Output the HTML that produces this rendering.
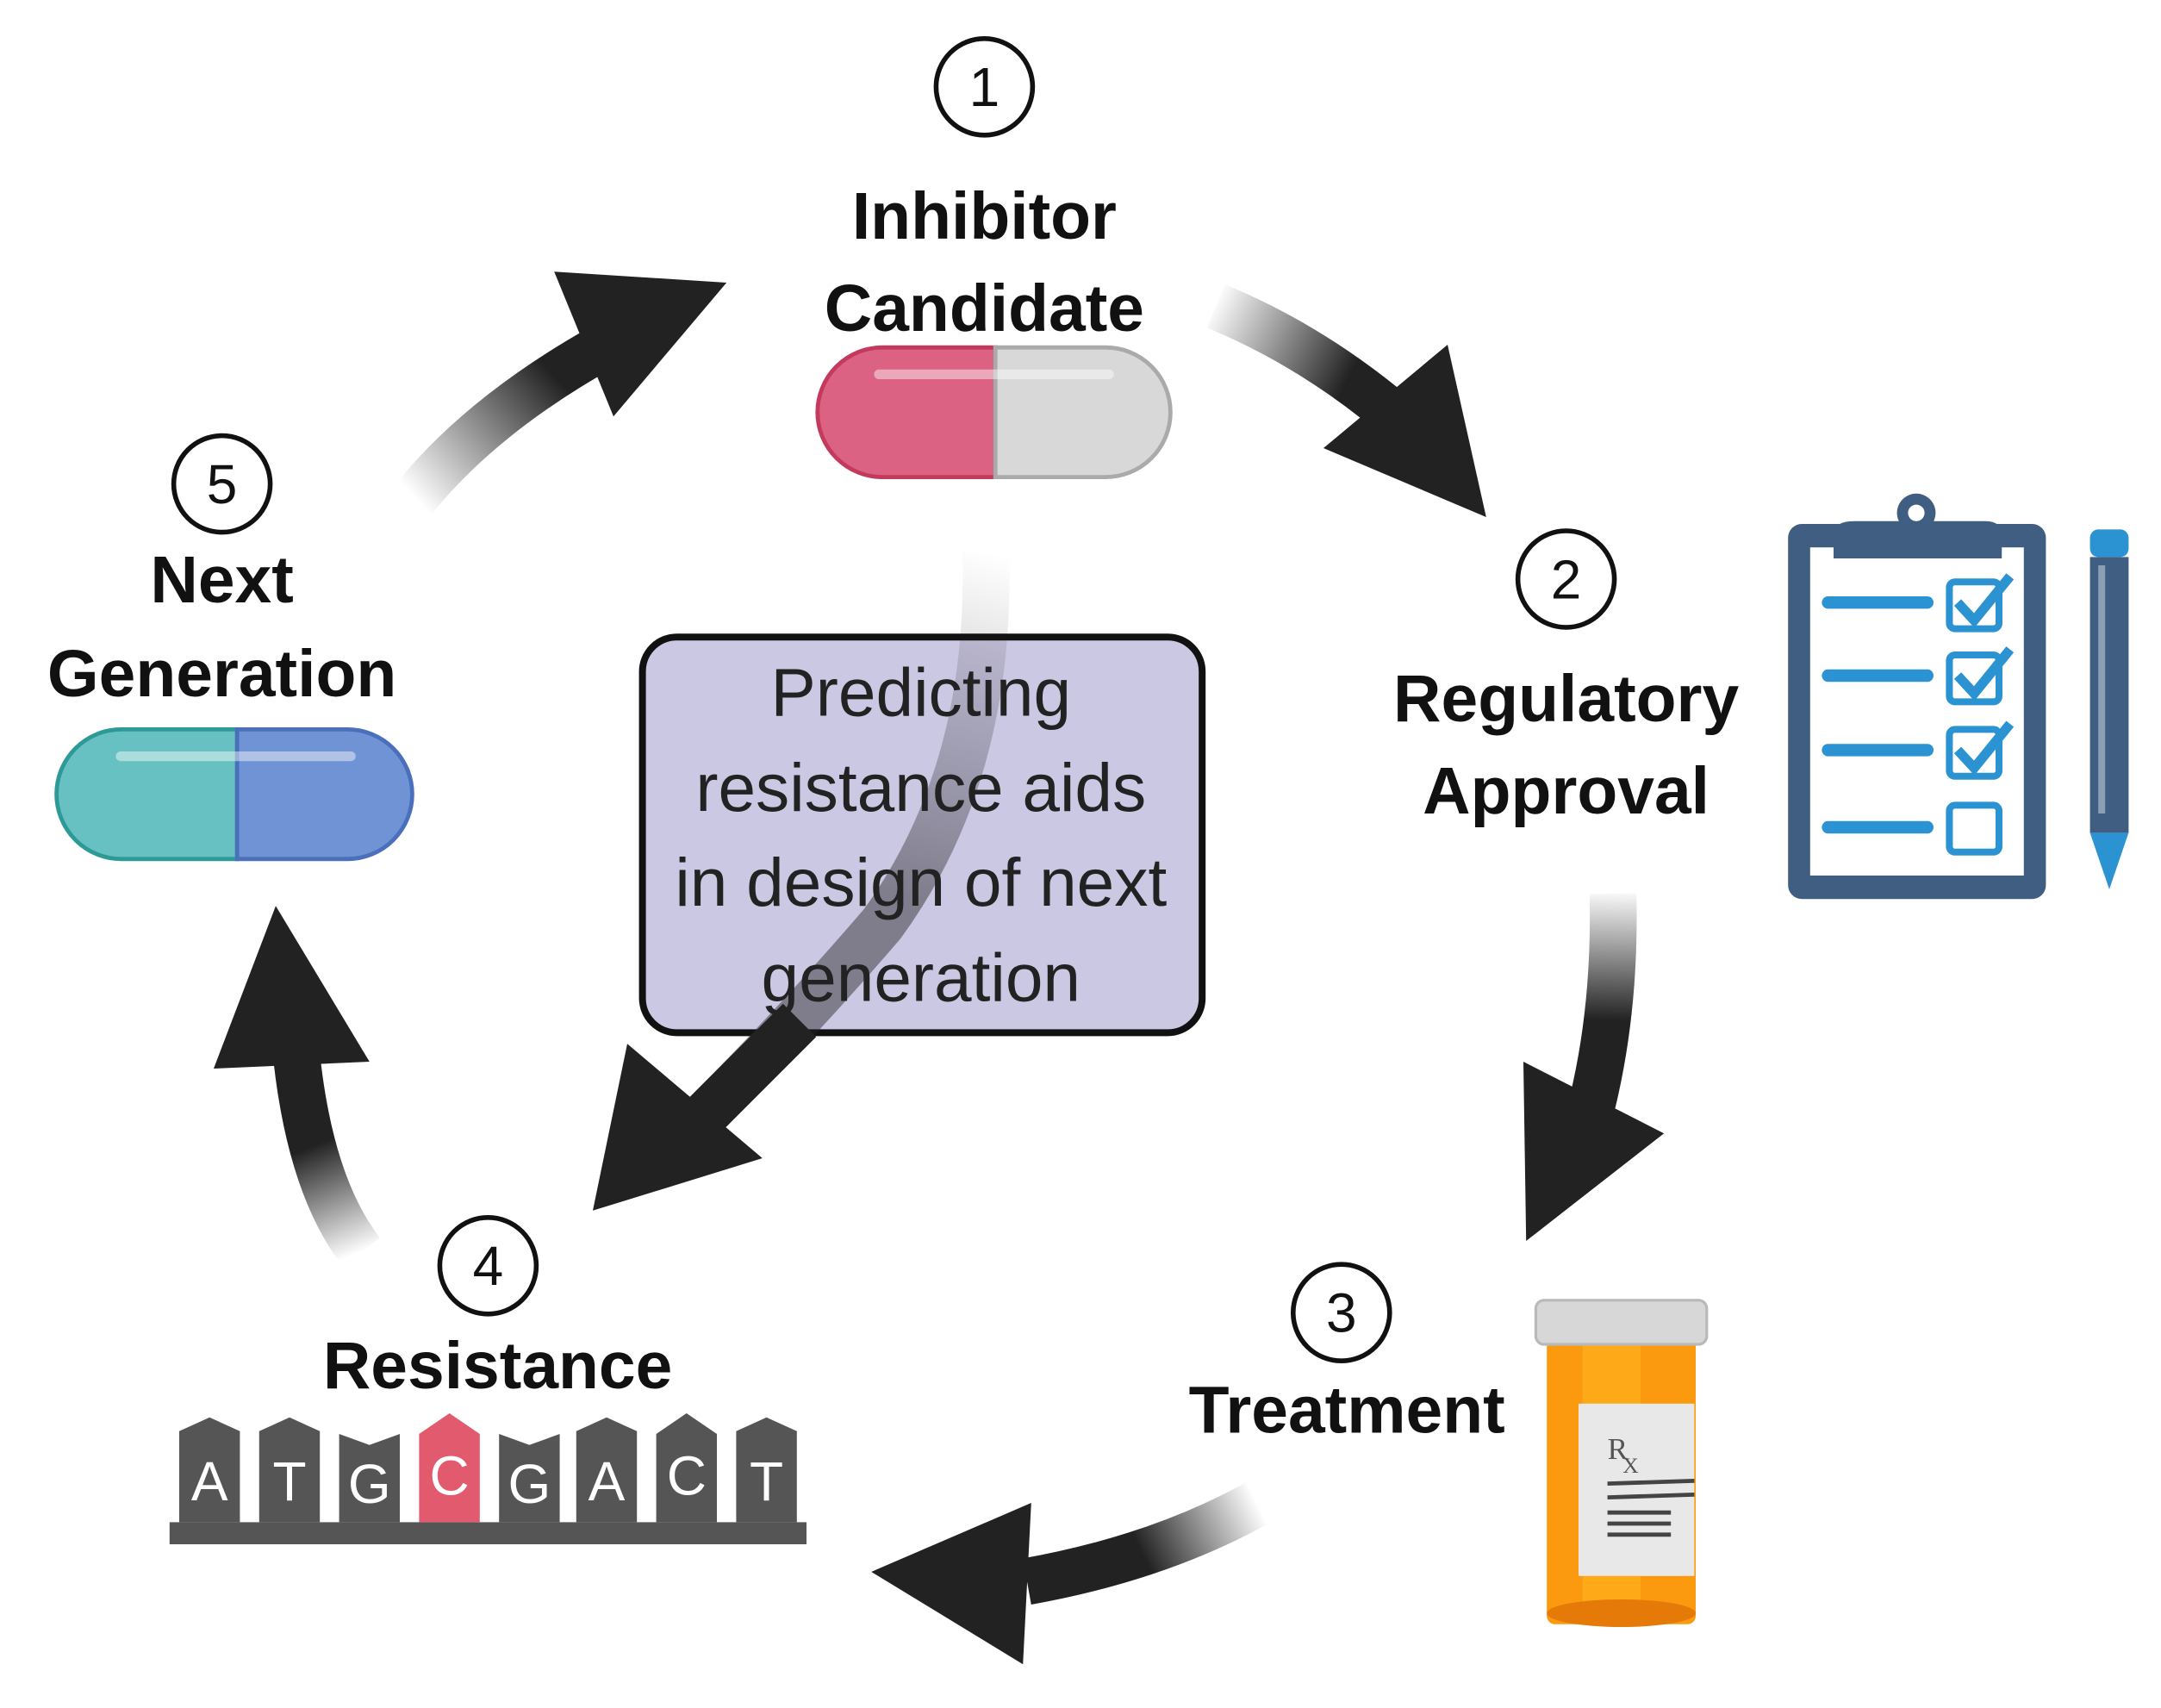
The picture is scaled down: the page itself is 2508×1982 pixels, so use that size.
<!DOCTYPE html>
<html><head><meta charset="utf-8"><style>html,body{margin:0;padding:0;background:#fff}svg{display:block}</style></head>
<body>
<svg width="2508" height="1982" viewBox="0 0 1567.5 1238.75" xmlns="http://www.w3.org/2000/svg" font-family="'Liberation Sans', sans-serif">
<defs>
<linearGradient id="g1" gradientUnits="userSpaceOnUse" x1="300" y1="360" x2="400" y2="270"><stop offset="0" stop-color="#222" stop-opacity="0"/><stop offset="1" stop-color="#222"/></linearGradient>
<linearGradient id="g2" gradientUnits="userSpaceOnUse" x1="880" y1="220" x2="980" y2="270"><stop offset="0" stop-color="#222" stop-opacity="0"/><stop offset="1" stop-color="#222"/></linearGradient>
<linearGradient id="g3" gradientUnits="userSpaceOnUse" x1="1170" y1="645" x2="1168" y2="740"><stop offset="0" stop-color="#222" stop-opacity="0"/><stop offset="1" stop-color="#222"/></linearGradient>
<linearGradient id="g4" gradientUnits="userSpaceOnUse" x1="912" y1="1090" x2="830" y2="1130"><stop offset="0" stop-color="#222" stop-opacity="0"/><stop offset="1" stop-color="#222"/></linearGradient>
<linearGradient id="g5" gradientUnits="userSpaceOnUse" x1="262" y1="908" x2="230" y2="830"><stop offset="0" stop-color="#222" stop-opacity="0"/><stop offset="1" stop-color="#222"/></linearGradient>
<linearGradient id="gc" gradientUnits="userSpaceOnUse" x1="715" y1="400" x2="650" y2="650"><stop offset="0" stop-color="#222" stop-opacity="0"/><stop offset="1" stop-color="#222"/></linearGradient>
</defs>

<!-- box -->
<rect x="466" y="462" width="406" height="287" rx="25" fill="#cbc8e3" stroke="#111" stroke-width="5"/>

<!-- arrows -->
<path d="M300,362 Q350,300 440,250" fill="none" stroke="url(#g1)" stroke-width="34"/>
<polygon points="527,205 402,197 445,302" fill="#222"/>
<path d="M882,222 Q950,250 1010,300" fill="none" stroke="url(#g2)" stroke-width="34"/>
<polygon points="1078,375 960,325 1050,250" fill="#222"/>
<path d="M1170,648 Q1172,730 1155,800" fill="none" stroke="url(#g3)" stroke-width="34"/>
<polygon points="1107,900 1105,770 1207,822" fill="#222"/>
<path d="M912,1090 Q840,1130 745,1147" fill="none" stroke="url(#g4)" stroke-width="34"/>
<polygon points="632,1140 748,1090 742,1207" fill="#222"/>
<path d="M262,908 Q225,860 215,765" fill="none" stroke="url(#g5)" stroke-width="34"/>
<polygon points="200,657 155,775 268,770" fill="#222"/>
<path d="M715,400 Q720,560 640,670 Q580,740 510,810" fill="none" stroke="url(#gc)" stroke-width="34" opacity="0.45"/>
<path d="M580,740 L510,810" fill="none" stroke="#222" stroke-width="34"/>
<polygon points="430,878 455,757 553,840" fill="#222"/>

<!-- box text -->
<g font-size="49" fill="#222" text-anchor="middle">
<text x="668" y="519">Predicting</text>
<text x="668" y="588">resistance aids</text>
<text x="668" y="657">in design of next</text>
<text x="668" y="726">generation</text>
</g>

<!-- circles -->
<g fill="none" stroke="#111" stroke-width="3.5">
<circle cx="714" cy="63" r="35"/><circle cx="1136" cy="420" r="35"/><circle cx="973" cy="952" r="35"/><circle cx="354" cy="918" r="35"/><circle cx="161" cy="351" r="35"/>
</g>
<g font-size="40" fill="#111" text-anchor="middle">
<text x="714" y="77">1</text><text x="1136" y="434">2</text><text x="973" y="966">3</text><text x="354" y="932">4</text><text x="161" y="365">5</text>
</g>

<!-- labels -->
<g font-size="48" font-weight="bold" fill="#111" text-anchor="middle">
<text x="714" y="173">Inhibitor</text>
<text x="714" y="240">Candidate</text>
<text x="1136" y="523">Regulatory</text>
<text x="1136" y="590">Approval</text>
<text x="977" y="1039">Treatment</text>
<text x="361" y="1007">Resistance</text>
<text x="161" y="437">Next</text>
<text x="161" y="505">Generation</text>
</g>

<!-- pill 1 -->
<path d="M722,252 L640,252 A47,47 0 0 0 640,346 L722,346 Z" fill="#db6283" stroke="#c33a5d" stroke-width="3"/>
<path d="M722,252 L802,252 A47,47 0 0 1 802,346 L722,346 Z" fill="#d8d8d8" stroke="#aaa" stroke-width="3"/>
<rect x="634" y="268" width="174" height="7" rx="3.5" fill="#fff" opacity="0.45"/>
<!-- pill 5 -->
<path d="M172,529 L88,529 A47,47 0 0 0 88,623 L172,623 Z" fill="#67c1c2" stroke="#2e9a98" stroke-width="3"/>
<path d="M172,529 L252,529 A47,47 0 0 1 252,623 L172,623 Z" fill="#6f93d4" stroke="#4a6fbb" stroke-width="3"/>
<rect x="84" y="545" width="174" height="7" rx="3.5" fill="#fff" opacity="0.45"/>

<!-- clipboard -->
<rect x="1297" y="380" width="187" height="272" rx="10" fill="#3f5e82"/>
<rect x="1313" y="397" width="155" height="238" fill="#fff"/>
<path d="M1330,405 L1330,388 Q1330,378 1345,378 L1440,378 Q1452,378 1452,388 L1452,405 Z" fill="#3f5e82"/>
<circle cx="1390" cy="372" r="14" fill="#3f5e82"/><circle cx="1390" cy="372" r="6" fill="#fff"/>
<g stroke="#2b93d1" stroke-width="9" stroke-linecap="round" fill="none">
<line x1="1326" y1="437" x2="1398" y2="437"/><line x1="1326" y1="490" x2="1398" y2="490"/><line x1="1326" y1="544" x2="1398" y2="544"/><line x1="1326" y1="600" x2="1398" y2="600"/>
</g>
<g stroke="#2b93d1" stroke-width="5" fill="none">
<rect x="1414" y="422" width="36" height="34" rx="4"/><rect x="1414" y="475" width="36" height="34" rx="4"/><rect x="1414" y="529" width="36" height="34" rx="4"/><rect x="1414" y="584" width="36" height="34" rx="4"/>
<path d="M1420,437 L1432,450 L1458,418 M1420,490 L1432,503 L1458,471 M1420,544 L1432,557 L1458,525" stroke-width="7"/>
</g>
<!-- pencil -->
<rect x="1516" y="384" width="28" height="20" rx="6" fill="#2b93d1"/>
<rect x="1516" y="404" width="28" height="200" fill="#3f5e82"/>
<rect x="1522" y="410" width="5" height="180" fill="#fff" opacity="0.4"/>
<polygon points="1516,604 1544,604 1530,645" fill="#2b93d1"/>

<!-- bottle -->
<rect x="1122" y="970" width="108" height="208" rx="6" fill="#fb9a0e"/>
<rect x="1148" y="970" width="42" height="208" fill="#ffb11c" opacity="0.7"/>
<ellipse cx="1176" cy="1170" rx="54" ry="10" fill="#e57a08"/>
<rect x="1114" y="943" width="124" height="32" rx="6" fill="#d7d7d7" stroke="#b9b9b9" stroke-width="2"/>
<rect x="1145" y="1018" width="84" height="125" fill="#e8e8e8"/>
<text x="1166" y="1058" font-family="'Liberation Serif', serif" font-size="22" fill="#555">R</text>
<text x="1177" y="1068" font-family="'Liberation Serif', serif" font-size="16" fill="#555">X</text>
<g stroke="#444" stroke-width="3"><line x1="1166" y1="1076" x2="1229" y2="1074"/><line x1="1166" y1="1086" x2="1229" y2="1084"/><line x1="1166" y1="1097" x2="1212" y2="1097"/><line x1="1166" y1="1105" x2="1212" y2="1105"/><line x1="1166" y1="1113" x2="1212" y2="1113"/></g>

<!-- DNA -->
<rect x="123" y="1104" width="462" height="16" fill="#555"/>
<g fill="#555">
<path d="M130,1104 L130,1038 L152,1028 L174,1038 L174,1104 Z"/>
<path d="M188,1104 L188,1038 L210,1028 L232,1038 L232,1104 Z"/>
<path d="M246,1104 L246,1040 L268,1048 L290,1040 L290,1104 Z"/>
<path d="M362,1104 L362,1040 L384,1048 L406,1040 L406,1104 Z"/>
<path d="M418,1104 L418,1038 L440,1028 L462,1038 L462,1104 Z"/>
<path d="M476,1104 L476,1040 L498,1025 L520,1040 L520,1104 Z"/>
<path d="M534,1104 L534,1038 L556,1028 L578,1038 L578,1104 Z"/>
</g>
<path d="M304,1104 L304,1040 L326,1025 L348,1040 L348,1104 Z" fill="#e25a6e"/>
<g font-size="40" fill="#fff" text-anchor="middle">
<text x="152" y="1088">A</text><text x="210" y="1088">T</text><text x="268" y="1090">G</text><text x="326" y="1084">C</text><text x="384" y="1090">G</text><text x="440" y="1088">A</text><text x="498" y="1084">C</text><text x="556" y="1088">T</text>
</g>
</svg>
</body></html>
